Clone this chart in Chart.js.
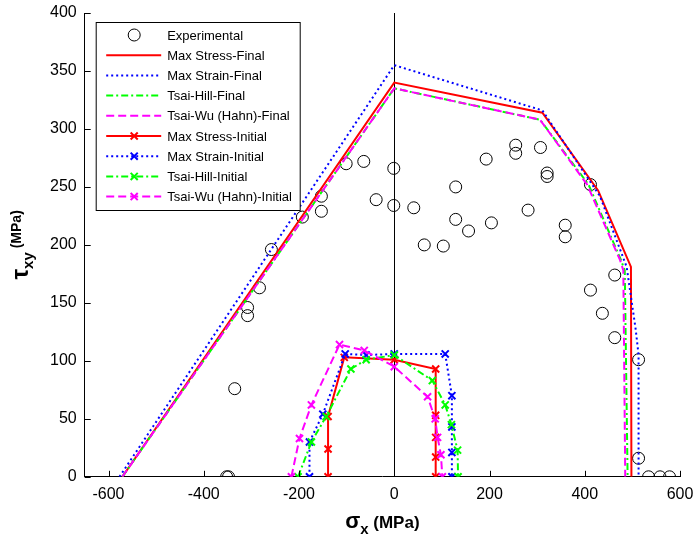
<!DOCTYPE html>
<html>
<head>
<meta charset="utf-8">
<script src="https://cdn.jsdelivr.net/npm/chart.js@4.4.1/dist/chart.umd.min.js"></script>
<style>
  html, body { margin: 0; padding: 0; background: #fff; }
  .wrap { width: 694px; height: 537px; }
</style>
</head>
<body>
<div class="wrap"><canvas class="envelope" width="694" height="537"></canvas></div>
<script>
const X_TICKS = [-600, -400, -200, 0, 200, 400, 600];
const Y_TICKS = [0, 50, 100, 150, 200, 250, 300, 350, 400];

// experimental failure points (sigma_x, tau_xy) in MPa
const EXP_SIGMA = [-352, -348, -335, -308, -308, -283, -258, -193, -153, -153,
  -101, -64, -38, -1, -1, 41, 63, 103, 129, 129,
  156, 193, 204, 255, 255, 307, 281, 321, 321, 359,
  359, 412, 463, 412, 437, 463, 513, 513, 534, 558, 578];
const EXP_TAU = [0, 0, 76, 146, 139, 163, 196, 224, 242, 229,
  270, 272, 239, 266, 234, 232, 200, 199, 250, 222,
  212, 274, 219, 286, 279, 284, 230, 262, 259, 217,
  207, 252, 174, 161, 141, 120, 101, 16, 0, 0, 0];

// final failure envelopes
const MAX_STRESS_FINAL_SIGMA = [-571, 0, 311, 428, 497, 498];
const MAX_STRESS_FINAL_TAU = [0, 340, 314, 247, 181, 0];
const MAX_STRAIN_FINAL_SIGMA = [-577, 0, 311, 432, 488, 507, 513, 513];
const MAX_STRAIN_FINAL_TAU = [0, 355, 316, 242, 181, 127, 105, 0];
const TSAI_HILL_FINAL_SIGMA = [-571, 0, 306, 408, 476, 484, 490];
const TSAI_HILL_FINAL_TAU = [0, 335, 308, 252, 187, 178, 0];
const TSAI_WU_FINAL_SIGMA = [-571, 0, 306, 405, 474, 481, 485];
const TSAI_WU_FINAL_TAU = [0, 335, 308, 252, 187, 178, 0];

// initial (first ply) failure envelopes
const MAX_STRESS_INIT_SIGMA = [-139, -139, -139, -105, 0, 87, 87, 87, 87, 87];
const MAX_STRESS_INIT_TAU = [0, 24, 52, 103, 101, 93, 53, 34, 17, 0];
const MAX_STRAIN_INIT_SIGMA = [-178, -178, -150, -103, -59, 0, 107, 121, 121, 121, 121];
const MAX_STRAIN_INIT_TAU = [0, 30, 54, 106, 105, 106, 106, 70, 43, 21, 0];
const TSAI_HILL_INIT_SIGMA = [-202, -174, -143, -91, -59, 0, 80, 107, 120, 133, 134];
const TSAI_HILL_INIT_TAU = [0, 30, 52, 93, 101, 105, 83, 62, 45, 23, 0];
const TSAI_WU_INIT_SIGMA = [-216, -199, -174, -115, -63, 0, 70, 86, 91, 98, 101];
const TSAI_WU_INIT_TAU = [0, 33, 62, 114, 109, 95, 69, 50, 34, 19, 0];

const RED = '#ff0000', BLUE = '#0000ff', GREEN = '#00ff00', MAGENTA = '#ff00ff';
const DOTTED = [2, 3], DASHDOT = [7, 3, 2, 3], DASHED = [8, 4];

function pts(sigma, tau) {
  return sigma.map((s, i) => ({ x: s, y: tau[i] }));
}

function lineSet(label, sigma, tau, color, dash, marker) {
  return {
    label: label,
    data: pts(sigma, tau),
    showLine: true,
    borderColor: color,
    backgroundColor: color,
    borderWidth: 2,
    borderDash: dash,
    pointStyle: marker ? 'crossRot' : 'circle',
    pointRadius: marker ? 5 : 0,
    pointBorderWidth: 2,
    pointBorderColor: color
  };
}

const DATASETS = [
  {
    label: 'Experimental',
    data: pts(EXP_SIGMA, EXP_TAU),
    showLine: false,
    pointStyle: 'circle',
    pointRadius: 6,
    pointBorderWidth: 1,
    pointBorderColor: '#000',
    pointBackgroundColor: 'rgba(0,0,0,0)',
    borderColor: '#000'
  },
  lineSet('Max Stress-Final', MAX_STRESS_FINAL_SIGMA, MAX_STRESS_FINAL_TAU, RED, [], false),
  lineSet('Max Strain-Final', MAX_STRAIN_FINAL_SIGMA, MAX_STRAIN_FINAL_TAU, BLUE, DOTTED, false),
  lineSet('Tsai-Hill-Final', TSAI_HILL_FINAL_SIGMA, TSAI_HILL_FINAL_TAU, GREEN, DASHDOT, false),
  lineSet('Tsai-Wu (Hahn)-Final', TSAI_WU_FINAL_SIGMA, TSAI_WU_FINAL_TAU, MAGENTA, DASHED, false),
  lineSet('Max Stress-Initial', MAX_STRESS_INIT_SIGMA, MAX_STRESS_INIT_TAU, RED, [], true),
  lineSet('Max Strain-Initial', MAX_STRAIN_INIT_SIGMA, MAX_STRAIN_INIT_TAU, BLUE, DOTTED, true),
  lineSet('Tsai-Hill-Initial', TSAI_HILL_INIT_SIGMA, TSAI_HILL_INIT_TAU, GREEN, DASHDOT, true),
  lineSet('Tsai-Wu (Hahn)-Initial', TSAI_WU_INIT_SIGMA, TSAI_WU_INIT_TAU, MAGENTA, DASHED, true)
];
// later series drawn on top, like the original
DATASETS.forEach((d, i) => { d.order = DATASETS.length - i; });

const FONT = '"Liberation Sans", Arial, sans-serif';

// black vertical line at sigma_x = 0
const zeroLine = {
  id: 'zeroLine',
  beforeDatasetsDraw(chart) {
    const { ctx, chartArea, scales } = chart;
    const px = Math.round(scales.x.getPixelForValue(0)) + 0.5;
    ctx.save();
    ctx.strokeStyle = '#000';
    ctx.lineWidth = 1;
    ctx.beginPath();
    ctx.moveTo(px, chartArea.top);
    ctx.lineTo(px, chartArea.bottom);
    ctx.stroke();
    ctx.restore();
  }
};

// matlab style ticks pointing into the plot, plus axis titles
const axisDeco = {
  id: 'axisDeco',
  afterDraw(chart) {
    const { ctx, chartArea, scales } = chart;
    ctx.save();
    ctx.strokeStyle = '#000';
    ctx.lineWidth = 1;
    ctx.beginPath();
    X_TICKS.forEach(v => {
      const px = Math.round(scales.x.getPixelForValue(v)) + 0.5;
      ctx.moveTo(px, chartArea.bottom);
      ctx.lineTo(px, chartArea.bottom - 6);
    });
    Y_TICKS.forEach(v => {
      const py = Math.round(scales.y.getPixelForValue(v)) + 0.5;
      ctx.moveTo(chartArea.left, py);
      ctx.lineTo(chartArea.left + 6, py);
    });
    ctx.stroke();

    ctx.fillStyle = '#000';
    ctx.textBaseline = 'alphabetic';
    ctx.textAlign = 'left';

    // x title: sigma_x (MPa)
    const xParts = [
      { t: '\u03c3', f: 'bold 22px ' + FONT, dy: 0 },
      { t: 'x', f: 'bold 15px ' + FONT, dy: 6 },
      { t: ' (MPa)', f: 'bold 17px ' + FONT, dy: 0 }
    ];
    drawParts(ctx, xParts, (chartArea.left + chartArea.right) / 2, 528);

    // y title: tau_xy (MPa), rotated
    ctx.translate(28, (chartArea.top + chartArea.bottom) / 2);
    ctx.rotate(-Math.PI / 2);
    const yParts = [
      { t: '\u03c4', f: 'bold 24px ' + FONT, dy: 0 },
      { t: 'xy', f: 'bold 15px ' + FONT, dy: 5 },
      { t: ' (MPa)', f: 'bold 14px ' + FONT, dy: -7 }
    ];
    drawParts(ctx, yParts, 0, 0);
    ctx.restore();
  }
};

function drawParts(ctx, parts, cx, baseY) {
  let total = 0;
  parts.forEach(p => { ctx.font = p.f; p.w = ctx.measureText(p.t).width; total += p.w; });
  let x = cx - total / 2;
  parts.forEach(p => {
    ctx.font = p.f;
    ctx.fillText(p.t, x, baseY + p.dy);
    x += p.w;
  });
}

// legend box inside the plot, top left
const boxLegend = {
  id: 'boxLegend',
  afterDraw(chart) {
    const { ctx, chartArea } = chart;
    const left = chartArea.left + 11.5, top = chartArea.top + 9.5;
    const w = 204, h = 188, row = 20.2;
    ctx.save();
    ctx.fillStyle = '#fff';
    ctx.fillRect(left, top, w, h);
    ctx.strokeStyle = '#000';
    ctx.lineWidth = 1;
    ctx.setLineDash([]);
    ctx.strokeRect(left, top, w, h);

    chart.data.datasets.forEach((ds, i) => {
      const y = top + 12.5 + i * row;
      const x0 = left + 10, x1 = left + 65, cx = left + 38;
      ctx.save();
      if (ds.showLine) {
        ctx.strokeStyle = ds.borderColor;
        ctx.lineWidth = ds.borderWidth;
        ctx.setLineDash(ds.borderDash || []);
        ctx.beginPath();
        ctx.moveTo(x0, y);
        ctx.lineTo(x1, y);
        ctx.stroke();
      }
      ctx.setLineDash([]);
      if (ds.pointRadius > 0) {
        ctx.strokeStyle = ds.pointBorderColor;
        ctx.lineWidth = ds.pointBorderWidth;
        ctx.beginPath();
        if (ds.pointStyle === 'circle') {
          ctx.arc(cx, y, ds.pointRadius, 0, Math.PI * 2);
        } else {
          const r = ds.pointRadius * Math.SQRT1_2;
          ctx.moveTo(cx - r, y - r); ctx.lineTo(cx + r, y + r);
          ctx.moveTo(cx - r, y + r); ctx.lineTo(cx + r, y - r);
        }
        ctx.stroke();
      }
      ctx.restore();
      ctx.fillStyle = '#000';
      ctx.font = '13px ' + FONT;
      ctx.textBaseline = 'middle';
      ctx.fillText(ds.label, left + 71, y + 1);
    });
    ctx.restore();
  }
};

// let layout.padding alone decide where the plot box sits
function noOverflow(axis) {
  axis.paddingLeft = 0;
  axis.paddingRight = 0;
  axis.paddingTop = 0;
  axis.paddingBottom = 0;
}

const ENVELOPE_CHART = new Chart(document.querySelector('.envelope'), {
  type: 'scatter',
  data: { datasets: DATASETS },
  options: {
    responsive: false,
    animation: false,
    layout: { padding: { left: 42, right: 14, top: 13, bottom: 25 } },
    plugins: {
      legend: { display: false },
      tooltip: { enabled: false }
    },
    scales: {
      x: {
        type: 'linear',
        min: -650,
        max: 600,
        afterBuildTicks: axis => { axis.ticks = X_TICKS.map(v => ({ value: v })); },
        afterFit: noOverflow,
        grid: { display: false, drawTicks: false },
        border: { display: true, color: '#000', width: 1 },
        ticks: { color: '#000', font: { family: FONT, size: 16 }, padding: 8, maxRotation: 0, autoSkip: false }
      },
      y: {
        type: 'linear',
        min: 0,
        max: 400,
        afterBuildTicks: axis => { axis.ticks = Y_TICKS.map(v => ({ value: v })); },
        afterFit: noOverflow,
        grid: { display: false, drawTicks: false },
        border: { display: true, color: '#000', width: 1 },
        ticks: { color: '#000', font: { family: FONT, size: 16 }, padding: 8, autoSkip: false }
      }
    }
  },
  plugins: [zeroLine, axisDeco, boxLegend]
});
</script>
</body>
</html>
